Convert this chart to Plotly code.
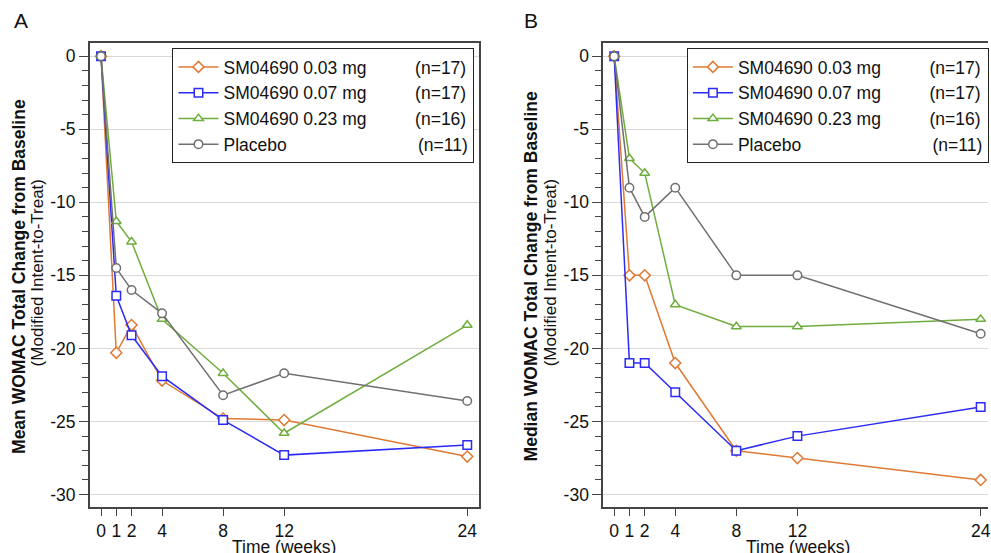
import plotly.graph_objects as go

weeks = [0, 1, 2, 4, 8, 12, 24]
series_names = ["SM04690 0.03 mg", "SM04690 0.07 mg", "SM04690 0.23 mg", "Placebo"]
n_labels = ["(n=17)", "(n=17)", "(n=16)", "(n=11)"]
y_ticks = [0, -5, -10, -15, -20, -25, -30]
y_ticktext = ["0", "-5", "-10", "-15", "-20", "-25", "-30"]

mean_003 = [0, -20.3, -18.4, -22.2, -24.8, -24.9, -27.4]
mean_007 = [0, -16.4, -19.1, -21.9, -24.9, -27.3, -26.6]
mean_023 = [0, -11.3, -12.7, -18.0, -21.7, -25.8, -18.4]
mean_pbo = [0, -14.5, -16.0, -17.6, -23.2, -21.7, -23.6]

median_003 = [0, -15, -15, -21, -27, -27.5, -29]
median_007 = [0, -21, -21, -23, -27, -26, -24]
median_023 = [0, -7, -8, -17, -18.5, -18.5, -18]
median_pbo = [0, -9, -11, -9, -15, -15, -19]

colors = ["#DF7A35", "#2B2BF5", "#6FAD3F", "#707070"]
symbols = ["diamond", "square", "triangle-up", "circle"]

FONT = "Liberation Sans, Arial, sans-serif"
W, H = 991, 553

# name padding so the (n=..) column lines up (Arial metrics)
pads = [10, 10, 10, 27]
NB = "\u00a0"

fig = go.Figure()
panels = [
    ([mean_003, mean_007, mean_023, mean_pbo], "x", "y", "legend"),
    ([median_003, median_007, median_023, median_pbo], "x2", "y2", "legend2"),
]
for vals, xa, ya, lg in panels:
    for i, v in enumerate(vals):
        fig.add_trace(go.Scatter(
            x=weeks, y=v, mode="lines+markers",
            name=series_names[i] + NB * pads[i] + n_labels[i],
            line=dict(color=colors[i], width=1.5),
            marker=dict(symbol=symbols[i], size=8.5, color="white",
                        line=dict(color=colors[i], width=1.5)),
            xaxis=xa, yaxis=ya, legend=lg, showlegend=True,
        ))

top_px, bot_px = 43, 507
ydom = [1 - bot_px / H, 1 - top_px / H]

xcommon = dict(
    tickvals=weeks, ticktext=[str(w) for w in weeks],
    ticks="outside", ticklen=7, tickwidth=1, tickcolor="#444",
    showgrid=False, zeroline=False, showline=True, linecolor="#444", linewidth=1.5,
    mirror=True, tickfont=dict(family=FONT, size=17.5, color="#111"),
    ticklabeloverflow="allow",
)
ycommon = dict(
    range=[-30.85, 0.9], tickvals=y_ticks, ticktext=y_ticktext,
    ticks="outside", ticklen=9, tickwidth=1, tickcolor="#444",
    minor=dict(dtick=1, ticks="outside", ticklen=6, tickcolor="#444", showgrid=False),
    showgrid=True, gridcolor="#d9d9d9", gridwidth=1, zeroline=False,
    showline=True, linecolor="#444", linewidth=1.5,
    tickfont=dict(family=FONT, size=17.5, color="#111"),
)

legend_style = dict(yanchor="top", xanchor="left", y=1 - 48 / H,
                    bordercolor="#222", borderwidth=1, bgcolor="white",
                    font=dict(family=FONT, size=17.5, color="#111"), itemwidth=40,
                    tracegroupgap=0)

fig.update_layout(
    width=W, height=H, margin=dict(l=0, r=0, t=0, b=0),
    paper_bgcolor="white", plot_bgcolor="white",
    font=dict(family=FONT, color="#111"),
    xaxis=dict(domain=[90 / W, 480 / W], range=[-0.74, 24.74], anchor="y", **xcommon),
    yaxis=dict(domain=ydom, anchor="x", mirror=True, **ycommon),
    xaxis2=dict(domain=[605 / W, 1.0], range=[-0.72, 24.48], anchor="y2", **xcommon),
    yaxis2=dict(domain=ydom, anchor="x2", mirror=False, **ycommon),
    legend=dict(x=173 / W, **legend_style),
    legend2=dict(x=689 / W, **legend_style),
    showlegend=True,
)

ann = []
for lbl, xp in [("A", 21), ("B", 533)]:
    ann.append(dict(text=lbl, x=xp / W, y=1 - 20 / H, xref="paper", yref="paper",
                    xanchor="center", yanchor="middle", showarrow=False,
                    font=dict(family=FONT, size=21, color="#111")))
for title, xb, xr in [("Mean WOMAC Total Change from Baseline", 19, 37.5),
                      ("Median WOMAC Total Change from Baseline", 533, 552)]:
    ann.append(dict(text="<b>" + title + "</b>", x=xb / W, y=1 - 276 / H,
                    xref="paper", yref="paper", textangle=-90, showarrow=False,
                    xanchor="center", yanchor="middle",
                    font=dict(family=FONT, size=17.5, color="#111")))
    ann.append(dict(text="(Modified Intent-to-Treat)", x=xr / W, y=1 - 273 / H,
                    xref="paper", yref="paper", textangle=-90, showarrow=False,
                    xanchor="center", yanchor="middle",
                    font=dict(family=FONT, size=17, color="#111")))
for xc in [285, 800]:
    ann.append(dict(text="Time (weeks)", x=xc / W, y=1 - 547 / H, xref="paper",
                    yref="paper", xanchor="center", yanchor="middle", showarrow=False,
                    font=dict(family=FONT, size=17.5, color="#111")))
fig.update_layout(annotations=ann)

fig.write_html("out.html", config={"displayModeBar": False},
               post_script="document.body.style.margin='0';document.body.style.overflow='hidden';")
